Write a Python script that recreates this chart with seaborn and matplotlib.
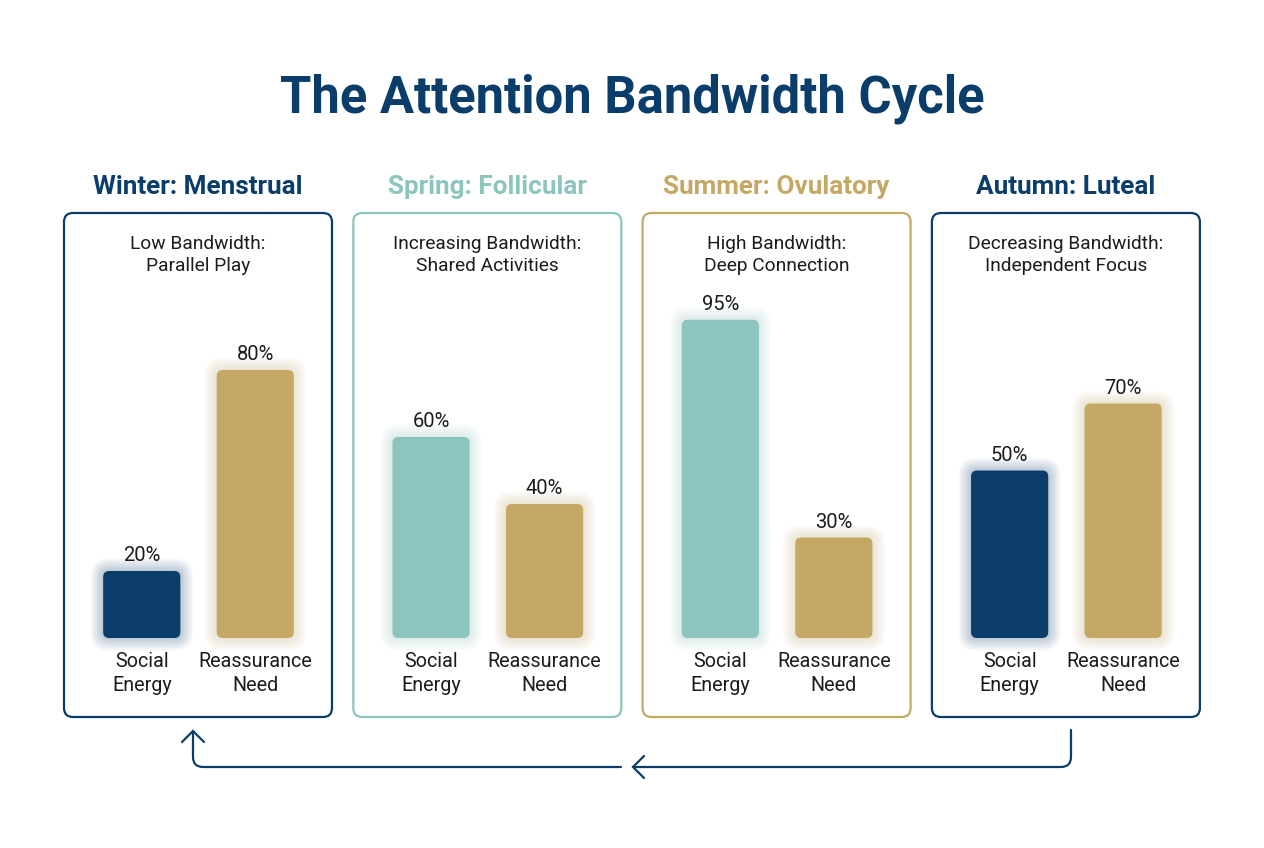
import pandas as pd
import matplotlib
matplotlib.use("Agg")
import matplotlib.pyplot as plt
import seaborn as sns
from matplotlib.patches import FancyBboxPatch, PathPatch
from matplotlib.path import Path

sns.set_theme(style="white")
plt.rcParams["font.family"] = ["Roboto", "DejaVu Sans"]

NAVY = "#0B3D6B"
TEAL = "#8CC5BE"
GOLD = "#C6A865"
INK = "#1C1C1C"

# Daten
phases = ["Winter: Menstrual", "Spring: Follicular", "Summer: Ovulatory", "Autumn: Luteal"]
modes = ["Low Bandwidth:\nParallel Play", "Increasing Bandwidth:\nShared Activities",
         "High Bandwidth:\nDeep Connection", "Decreasing Bandwidth:\nIndependent Focus"]
metrics = ["Social\nEnergy", "Reassurance\nNeed"]
social_energy = [20, 60, 95, 50]
reassurance_need = [80, 40, 30, 70]
phase_colors = [NAVY, TEAL, GOLD, NAVY]
social_colors = [NAVY, TEAL, TEAL, NAVY]

W, H = 1264, 848
fig = plt.figure(figsize=(W / 100, H / 100), dpi=100)
fig.patch.set_facecolor("white")

# pozadi v pixelech
bg = fig.add_axes([0, 0, 1, 1], zorder=0)
bg.set_xlim(0, W)
bg.set_ylim(H, 0)
bg.axis("off")

bg.text(632, 99, "The Attention Bandwidth Cycle", ha="center", va="center",
        fontsize=36.5, fontweight="bold", color=NAVY)

for i in range(4):
    x0 = 64 + i * 289.3
    col = phase_colors[i]
    bg.add_patch(FancyBboxPatch((x0, 213), 268, 504, boxstyle="round,pad=0,rounding_size=9",
                                fc="white", ec=col, lw=1.6, zorder=1))
    bg.text(x0 + 134, 187, phases[i], ha="center", va="center",
            fontsize=18.8, fontweight="bold", color=col)
    bg.text(x0 + 134, 255, modes[i], ha="center", va="center",
            fontsize=13.8, color=INK, linespacing=1.35)

    ax = fig.add_axes([(x0 + 21) / W, (H - 638) / H, 227 / W, 335 / H], zorder=2)
    ax.patch.set_alpha(0)
    df = pd.DataFrame({"metric": metrics, "value": [social_energy[i], reassurance_need[i]]})
    sns.barplot(data=df, x="metric", y="value", hue="metric",
                palette=[social_colors[i], GOLD], width=0.68, saturation=1,
                legend=False, ax=ax)
    ax.set_ylim(0, 100)
    ax.set_xlim(-0.5, 1.5)
    for c in ax.containers:
        ax.bar_label(c, fmt="%d%%", padding=4, fontsize=14.5, color=INK)
    ax.set_xlabel("")
    ax.set_ylabel("")
    ax.set_yticks([])
    ax.tick_params(axis="x", length=0, pad=10, labelsize=14.2, labelcolor=INK)
    for t in ax.get_xticklabels():
        t.set_linespacing(1.35)
    sns.despine(ax=ax, left=True, bottom=True)

    # zaoblene sloupce se zarem
    inv = bg.transData.inverted()
    for p in list(ax.patches):
        x, y, w, h = p.get_x(), p.get_y(), p.get_width(), p.get_height()
        X0, Y0 = inv.transform(ax.transData.transform((x, y)))
        X1, Y1 = inv.transform(ax.transData.transform((x + w, y + h)))
        left, top = min(X0, X1), min(Y0, Y1)
        bw, bh = abs(X1 - X0), abs(Y1 - Y0)
        fc = p.get_facecolor()
        p.set_visible(False)
        for k in range(10):
            pad = 1 + 1.3 * k
            bg.add_patch(FancyBboxPatch((left, top), bw, bh,
                                        boxstyle=f"round,pad={pad},rounding_size={6 + pad}",
                                        fc=fc, ec="none", alpha=0.028, zorder=2))
        bg.add_patch(FancyBboxPatch((left, top), bw, bh, boxstyle="round,pad=0,rounding_size=6",
                                    fc=fc, ec="none", zorder=3))

# sipky cyklu
lw = 1.6
right_seg = Path([(1071, 730), (1071, 757), (1071, 767), (1061, 767), (633, 767)],
                 [Path.MOVETO, Path.LINETO, Path.CURVE3, Path.CURVE3, Path.LINETO])
left_seg = Path([(621, 767), (203, 767), (193, 767), (193, 757), (193, 731)],
                [Path.MOVETO, Path.LINETO, Path.CURVE3, Path.CURVE3, Path.LINETO])
for pth in [right_seg, left_seg]:
    bg.add_patch(PathPatch(pth, fc="none", ec=NAVY, lw=lw, capstyle="round", zorder=4))
bg.plot([644, 633, 644], [756, 767, 778], color=NAVY, lw=lw, solid_capstyle="round",
        solid_joinstyle="miter", zorder=4)
bg.plot([182, 193, 204], [742, 731, 742], color=NAVY, lw=lw, solid_capstyle="round",
        solid_joinstyle="miter", zorder=4)

fig.savefig("out.png", dpi=100, facecolor="white")
